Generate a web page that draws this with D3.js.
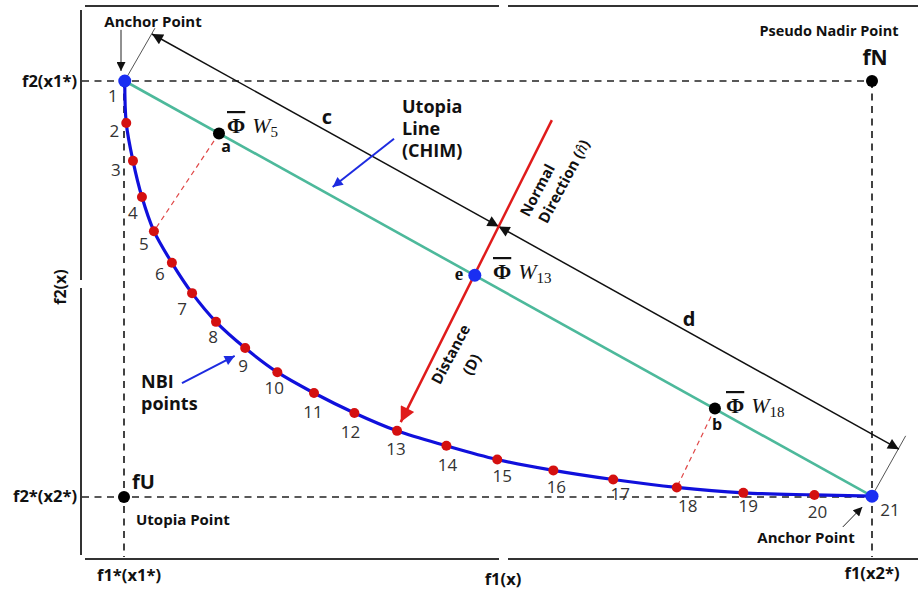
<!DOCTYPE html>
<html><head><meta charset="utf-8">
<script src="https://cdn.jsdelivr.net/npm/d3@7"></script>
<style>body{margin:0;background:#fff} svg{display:block}</style>
</head><body><svg id="c" width="918" height="592"></svg>
<script>
// ---------------- DATA (normalised objective space, 0..100) ----------------
const nbiIds = d3.range(1, 22);
const nbiF1 = [0.1, 0.3, 1.2, 2.4, 4.0, 6.4, 9.1, 12.3, 16.2, 20.5, 25.4, 30.8, 36.5, 43.1, 49.9, 57.4, 65.4, 73.9, 82.8, 92.3, 100];
const nbiF2 = [100, 89.9, 80.8, 72.1, 63.9, 56.3, 49.0, 42.1, 35.8, 30.0, 25.0, 20.2, 15.9, 12.3, 9.0, 6.4, 4.2, 2.3, 1.0, 0.5, 0.2];
const anchorIndex = [0, 20];
const specialNames = ["fU", "fN"];
const specialF1 = [0, 100];
const specialF2 = [0, 100];
const chimNames = ["a", "e", "b"];
const chimSubs = ["5", "13", "18"];
const chimF1 = [12.7, 46.9, 79.0];
const chimF2 = [87.4, 53.3, 21.3];
const chimProjIndex = [4, null, 17];          // NBI point each CHIM point is projected onto (dashed)
const cdLineF1 = [3.74, 50.08, 103.6];        // c / d distance arrow: start, normal crossing, end
const cdLineF2 = [111.3, 65.04, 11.5];
const normalF1 = [57.2, 37.0];                // red normal direction: top, arrow tip
const normalF2 = [90.6, 18.0];
const extLinesF1 = [[0.4, 4.14], [100.3, 104.5]];
const extLinesF2 = [[101, 112.7], [1.2, 14.7]];
const anchorCallF1 = [[-0.4, -0.4], [96.1, 98.7]];
const anchorCallF2 = [[112.3, 102.4], [-7.2, -2.4]];
const blueCallF1 = [[36.1, 27.9], [7.75, 14.8]];
const blueCallF2 = [[86.1, 74.5], [27.4, 33.9]];
const tickLabelsY = ["f2(x1*)", "f2*(x2*)"];
const tickLabelsX = ["f1*(x1*)", "f1(x)", "f1(x2*)"];

// ---------------- LAYOUT ----------------
const svg = d3.select("#c");
const x = d3.scaleLinear().domain([0, 100]).range([124, 872]);
const y = d3.scaleLinear().domain([0, 100]).range([497, 81]);
const FONT = "'Open Sans', 'Segoe UI', sans-serif";
const SERIF = "'Liberation Serif', 'DejaVu Serif', serif";
const labelOff = [[-12,21],[-12,14],[-17,15],[-9,22],[-10,19],[-12,17],[-10,22],[-3,21],[-2,24],[-3,22],
                  [-1,25],[-4,25],[-1,24.5],[1,25.5],[5,22.5],[3,22.5],[7,20.5],[11,24.5],[5,19],[3,23],[18,20]];

const defs = svg.append("defs");
function marker(id, color, w, h) {
  defs.append("marker").attr("id", id).attr("viewBox", "0 0 10 10")
    .attr("refX", 10).attr("refY", 5).attr("markerUnits", "userSpaceOnUse")
    .attr("markerWidth", w).attr("markerHeight", h).attr("orient", "auto-start-reverse")
    .append("path").attr("d", "M0,0 L10,5 L0,10 Z").attr("fill", color);
}
marker("arrBlack", "#111", 16, 11);
marker("arrSmall", "#111", 12, 9);
marker("arrRed", "#e01b1b", 19, 15);
marker("arrBlue", "#1d2be0", 13, 10);

svg.append("rect").attr("width", 918).attr("height", 592).attr("fill", "#fff");

// frame
const frame = svg.append("g").attr("stroke", "#333").attr("stroke-width", 2);
[[85, 499], [508, 918]].forEach(s => {
  frame.append("line").attr("x1", s[0]).attr("x2", s[1]).attr("y1", 6).attr("y2", 6);
  frame.append("line").attr("x1", s[0]).attr("x2", s[1]).attr("y1", 559).attr("y2", 559);
});
[[10, 280], [288, 555]].forEach(s => {
  frame.append("line").attr("x1", 81).attr("x2", 81).attr("y1", s[0]).attr("y2", s[1]);
});

// dashed reference lines
const dash = svg.append("g").attr("stroke", "#222").attr("stroke-width", 1.7).attr("stroke-dasharray", "7,5.5").attr("fill", "none");
dash.append("line").attr("x1", 82).attr("x2", x(specialF1[1])).attr("y1", y(nbiF2[0])).attr("y2", y(nbiF2[0]));
dash.append("line").attr("x1", 82).attr("x2", x(specialF1[1])).attr("y1", y(specialF2[0])).attr("y2", y(specialF2[0]));
dash.append("line").attr("x1", x(specialF1[0])).attr("x2", x(specialF1[0])).attr("y1", y(nbiF2[0])).attr("y2", 557);
dash.append("line").attr("x1", x(specialF1[1])).attr("x2", x(specialF1[1])).attr("y1", y(specialF2[1])).attr("y2", 557);

// utopia line (CHIM)
svg.append("line")
  .attr("x1", x(nbiF1[anchorIndex[0]])).attr("y1", y(nbiF2[anchorIndex[0]]))
  .attr("x2", x(nbiF1[anchorIndex[1]])).attr("y2", y(nbiF2[anchorIndex[1]]))
  .attr("stroke", "#4db99b").attr("stroke-width", 2.6);

// red dashed projections
chimProjIndex.forEach((k, i) => {
  if (k === null) return;
  svg.append("line").attr("x1", x(chimF1[i])).attr("y1", y(chimF2[i]))
    .attr("x2", x(nbiF1[k])).attr("y2", y(nbiF2[k]))
    .attr("stroke", "#e04848").attr("stroke-width", 1.2).attr("stroke-dasharray", "5,4");
});

// extension (thin) lines
extLinesF1.forEach((s, i) => {
  svg.append("line").attr("x1", x(s[0])).attr("y1", y(extLinesF2[i][0]))
    .attr("x2", x(s[1])).attr("y2", y(extLinesF2[i][1]))
    .attr("stroke", "#555").attr("stroke-width", 1);
});

// c / d distance arrows
[[0, 1], [1, 2]].forEach(p => {
  svg.append("line").attr("x1", x(cdLineF1[p[0]])).attr("y1", y(cdLineF2[p[0]]))
    .attr("x2", x(cdLineF1[p[1]])).attr("y2", y(cdLineF2[p[1]]))
    .attr("stroke", "#111").attr("stroke-width", 1.5)
    .attr("marker-start", "url(#arrBlack)").attr("marker-end", "url(#arrBlack)");
});

// NBI curve
const pts = nbiIds.map((id, i) => ({ id, f1: nbiF1[i], f2: nbiF2[i] }));
svg.append("path").datum(pts)
  .attr("d", d3.line().x(d => x(d.f1)).y(d => y(d.f2)).curve(d3.curveCatmullRom.alpha(0.5)))
  .attr("fill", "none").attr("stroke", "#1010dc").attr("stroke-width", 3.2);

// red normal
svg.append("line").attr("x1", x(normalF1[0])).attr("y1", y(normalF2[0]))
  .attr("x2", x(normalF1[1])).attr("y2", y(normalF2[1]))
  .attr("stroke", "#e01b1b").attr("stroke-width", 2.5).attr("marker-end", "url(#arrRed)");

// anchor callouts
anchorCallF1.forEach((s, i) => {
  svg.append("line").attr("x1", x(s[0])).attr("y1", y(anchorCallF2[i][0]))
    .attr("x2", x(s[1])).attr("y2", y(anchorCallF2[i][1]))
    .attr("stroke", "#222").attr("stroke-width", 1).attr("marker-end", "url(#arrSmall)");
});
blueCallF1.forEach((s, i) => {
  svg.append("line").attr("x1", x(s[0])).attr("y1", y(blueCallF2[i][0]))
    .attr("x2", x(s[1])).attr("y2", y(blueCallF2[i][1]))
    .attr("stroke", "#1d2be0").attr("stroke-width", 2).attr("marker-end", "url(#arrBlue)");
});

// NBI points
svg.append("g").selectAll("circle").data(pts.filter((d, i) => !anchorIndex.includes(i)))
  .join("circle").attr("cx", d => x(d.f1)).attr("cy", d => y(d.f2)).attr("r", 5).attr("fill", "#d41010");
svg.append("g").selectAll("circle").data(anchorIndex.map(i => pts[i]))
  .join("circle").attr("cx", d => x(d.f1)).attr("cy", d => y(d.f2)).attr("r", 6.5).attr("fill", "#1a2ef2");
// NBI numbers
svg.append("g").selectAll("text").data(pts).join("text")
  .attr("x", (d, i) => x(d.f1) + labelOff[i][0]).attr("y", (d, i) => y(d.f2) + labelOff[i][1])
  .attr("text-anchor", "middle").attr("font-family", FONT).attr("font-size", 17).attr("fill", "#333")
  .text(d => d.id);

// CHIM points
chimNames.forEach((n, i) => {
  svg.append("circle").attr("cx", x(chimF1[i])).attr("cy", y(chimF2[i])).attr("r", i === 1 ? 6.5 : 6)
    .attr("fill", i === 1 ? "#1a2ef2" : "#000");
});
// utopia & nadir
specialNames.forEach((n, i) => {
  svg.append("circle").attr("cx", x(specialF1[i])).attr("cy", y(specialF2[i])).attr("r", 6).attr("fill", "#000");
});

// ---------------- TEXT ----------------
function txt(t, px, py, opt = {}) {
  const e = svg.append("text").attr("x", px).attr("y", py)
    .attr("font-family", opt.family || FONT).attr("font-size", opt.size || 15)
    .attr("font-weight", opt.weight || "bold").attr("fill", opt.fill || "#111")
    .attr("text-anchor", opt.anchor || "start");
  if (opt.rotate !== undefined) e.attr("transform", `rotate(${opt.rotate},${px},${py})`);
  if (opt.baseline) e.attr("dominant-baseline", opt.baseline);
  e.text(t);
  return e;
}
// axis labels
txt(tickLabelsY[0], 77, 87, { anchor: "end", size: 16.5 });
txt(tickLabelsY[1], 77, 502, { anchor: "end", size: 16.5 });
txt(tickLabelsX[0], 129, 581, { anchor: "middle", size: 16.5 });
txt(tickLabelsX[1], 503, 585, { anchor: "middle", size: 16.5 });
txt(tickLabelsX[2], 872, 579, { anchor: "middle", size: 16.5 });
txt("f2(x)", 60, 287, { anchor: "middle", size: 16, rotate: -90, baseline: "central" });

txt("Anchor Point", 153, 27, { anchor: "middle", size: 15 });
txt("Anchor Point", 806, 543, { anchor: "middle", size: 15 });
txt("Pseudo Nadir Point", 829, 36, { anchor: "middle", size: 14.5 });
txt(specialNames[1], 875, 65, { anchor: "middle", size: 21 });
txt(specialNames[0], 132, 489, { size: 20 });
txt("Utopia Point", 136, 525, { size: 15 });
["Utopia", "Line", "(CHIM)"].forEach((t, i) => txt(t, 402, 113 + i * 22, { size: 18 }));
["NBI", "points"].forEach((t, i) => txt(t, 141, 388 + i * 22, { size: 18 }));
txt("c", 327, 124, { anchor: "middle", size: 20 });
txt("d", 689, 326, { anchor: "middle", size: 20 });
txt(chimNames[0], 226, 152, { anchor: "middle", size: 16 });
txt(chimNames[2], 717, 430, { anchor: "middle", size: 16 });
txt(chimNames[1], 459, 280, { anchor: "middle", size: 19, family: SERIF, weight: "bold" });

// rotated annotations
txt("Normal", 536.7, 190, { anchor: "middle", size: 15, rotate: -62, baseline: "central" });
const dir = txt("Direction (", 563.3, 181, { anchor: "middle", size: 15, rotate: -62, baseline: "central" });
dir.append("tspan").attr("font-family", SERIF).attr("font-style", "italic").attr("font-weight", "normal").attr("font-size", 17).text("n\u0302");
dir.append("tspan").text(")");
txt("Distance", 450, 354, { anchor: "middle", size: 15, rotate: -62, baseline: "central" });
txt("(D)", 471, 364, { anchor: "middle", size: 15, rotate: -62, baseline: "central" });

// Φ̄ W_k labels
const phiPos = [[227, 133], [493, 279], [726, 413]];
chimSubs.forEach((s, i) => {
  const t = svg.append("text").attr("x", phiPos[i][0]).attr("y", phiPos[i][1])
    .attr("font-family", SERIF).attr("font-size", 22).attr("fill", "#111");
  t.append("tspan").attr("font-weight", "bold").style("text-decoration", "overline").text("\u03A6");
  t.append("tspan").attr("font-style", "italic").attr("dx", 7).text("W");
  t.append("tspan").attr("font-size", 15).attr("dy", 4).text(s);
});
</script></body></html>
